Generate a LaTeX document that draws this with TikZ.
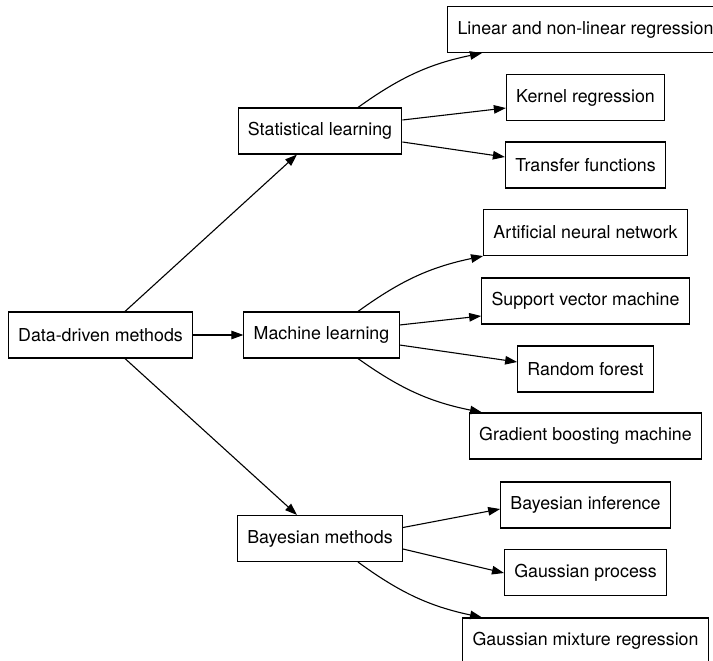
\documentclass[tikz,border=0pt]{standalone}
\usepackage{fontspec}
\setmainfont{TeX Gyre Heros}
\usepackage{tikz}
\usetikzlibrary{arrows.meta,positioning,calc}
\tikzset{
  meth/.style={draw, line width=1.1pt, inner xsep=9.8pt, inner ysep=0pt,
               minimum height=46pt, font=\fontsize{17.8}{20}\selectfont},
  metharrow/.style={-{Triangle[length=12pt, width=8.5pt]}, line width=1.1pt}
}

\begin{document}
\begin{tikzpicture}[x=1pt, y=-1pt]
\useasboundingbox (0,0) rectangle (713,661);
\clip (0,0) rectangle (713,661);
% left and middle column
\node[meth] (ddm) at (100.5,335) {Data-driven methods};
\node[meth] (stat) at (320,131) {Statistical learning};
\node[meth] (ml) at (321.5,335) {Machine learning};
\node[meth] (bay) at (320,538.5) {Bayesian methods};
% right column
\node[meth] (lin) at (585.5,29.5) {Linear and non-linear regression};
\node[meth] (ker) at (585.5,97.5) {Kernel regression};
\node[meth] (tf) at (585.5,165) {Transfer functions};
\node[meth] (ann) at (585.5,232.5) {Artificial neural network};
\node[meth] (svm) at (585.5,301) {Support vector machine};
\node[meth] (rf) at (585.5,369) {Random forest};
\node[meth] (gbm) at (585.5,436) {Gradient boosting machine};
\node[meth] (bi) at (585.5,505) {Bayesian inference};
\node[meth] (gp) at (585.5,572.5) {Gaussian process};
\node[meth] (gmr) at (585.5,641) {Gaussian mixture regression};

\draw[metharrow] ([xshift=24.5pt]ddm.north) -- ([xshift=-23pt]stat.south);
\draw[metharrow] (ddm) -- (ml);
\draw[metharrow] ([xshift=24.5pt]ddm.south) -- ([xshift=-23pt]bay.north);

\draw[metharrow] ([xshift=38pt]stat.north) to[bend left=12] ([xshift=-103.5pt]lin.south);
\draw[metharrow] ([yshift=11pt]stat.east) -- ([yshift=-10.5pt]ker.west);
\draw[metharrow] ([yshift=-11pt]stat.east) -- ([yshift=8pt]tf.west);

\draw[metharrow] ([xshift=36.5pt]ml.north) to[bend left=12] (ann.south west);
\draw[metharrow] ([yshift=10pt]ml.east) -- ([yshift=-15pt]svm.west);
\draw[metharrow] ([yshift=-10pt]ml.east) -- ([yshift=7pt]rf.west);
\draw[metharrow] ([xshift=36.5pt]ml.south) to[bend right=12] ([xshift=-103.5pt]gbm.north);

\draw[metharrow] ([yshift=11pt]bay.east) -- ([yshift=-4pt]bi.west);
\draw[metharrow] ([yshift=-10.5pt]bay.east) -- ([yshift=-0.5pt]gp.west);
\draw[metharrow] ([xshift=38pt]bay.south) to[bend right=12] ([xshift=-103.5pt]gmr.north);
\end{tikzpicture}
\end{document}
